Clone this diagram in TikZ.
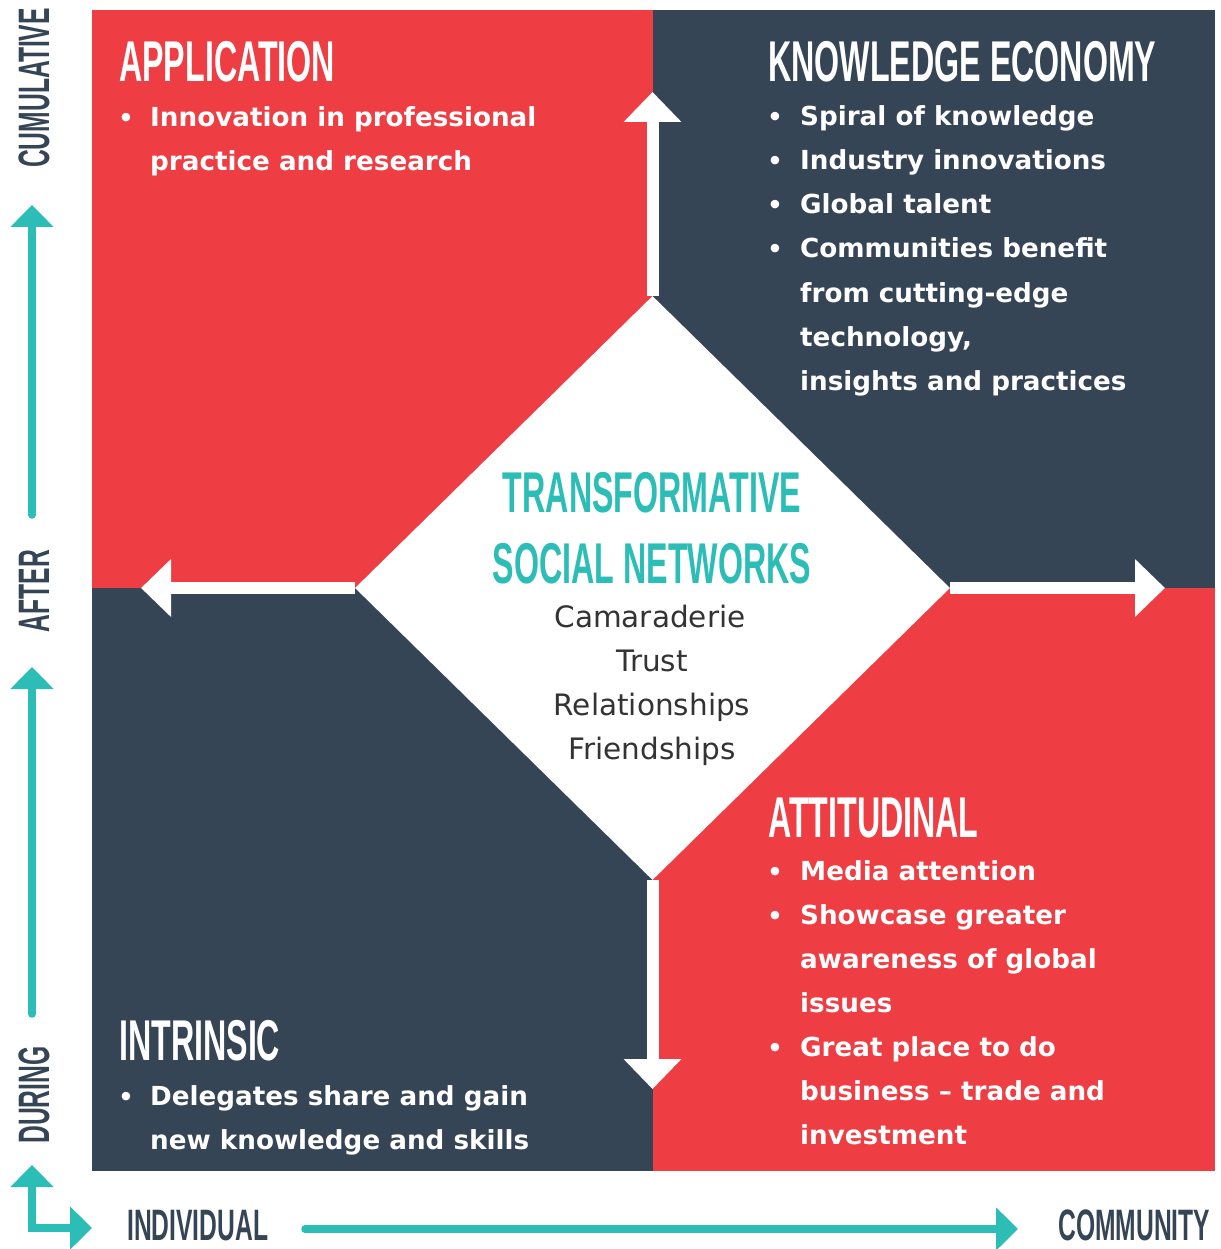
\documentclass[tikz,border=0pt]{standalone}
\usepackage{fontspec}
\usetikzlibrary{arrows.meta,shapes.geometric}
\setmainfont{DejaVu Sans}
\newfontfamily\headfont{Liberation Sans}[FakeStretch=0.56]
\definecolor{qred}{HTML}{EE3D43}
\definecolor{qdark}{HTML}{364556}
\definecolor{qteal}{HTML}{2CBDB7}
\definecolor{qtext}{HTML}{333333}
\tikzset{
  bighead/.style={inner sep=0pt, anchor=base west, text=white, font=\headfont\bfseries\fontsize{57.5}{60}\selectfont},
  axislabel/.style={inner sep=0pt, text=qdark, font=\headfont\bfseries\fontsize{44}{46}\selectfont},
  hubhead/.style={inner sep=0pt, anchor=base, text=qteal, font=\headfont\bfseries\fontsize{57.5}{60}\selectfont},
  hubtext/.style={inner sep=0pt, anchor=base, text=qtext, font=\fontsize{29.5}{32}\selectfont},
  btext/.style={inner sep=0pt, anchor=base west, text=white, font=\bfseries\fontsize{26.2}{32}\selectfont},
  bdot/.style={inner sep=0pt, anchor=base, text=white, font=\bfseries\fontsize{24}{32}\selectfont},
  whitearrow/.style={draw=white, line width=12pt, -{Triangle[length=30pt,width=56pt]}},
  tealarrow/.style={draw=qteal, line width=7.5pt, -{Triangle[length=22pt,width=42pt]}}
}
\begin{document}
\begin{tikzpicture}[x=1pt,y=-1pt]
\useasboundingbox (0,0) rectangle (1220,1249);
\fill[white] (0,0) rectangle (1220,1249);
% quadrants
\fill[qred]  (92,10) rectangle (653,588);
\fill[qdark] (653,10) rectangle (1215,588);
\fill[qdark] (92,588) rectangle (653,1171);
\fill[qred]  (653,588) rectangle (1215,1171);
% hub
\node[diamond, fill=white, minimum width=595pt, minimum height=584pt, inner sep=0pt] (hub) at (652.5,588) {};
\coordinate (upT) at (652.5,92);
\coordinate (leftT) at (141,588);
\coordinate (rightT) at (1165,588);
\coordinate (downT) at (652.5,1089);
\draw[whitearrow] (hub.north) -- (upT);
\draw[whitearrow] (hub.west) -- (leftT);
\draw[whitearrow] (hub.east) -- (rightT);
\draw[whitearrow] (hub.south) -- (downT);
% hub text
\node[hubhead] (h1) at (652,512) {TRANSFORMATIVE};
\node[hubhead] (h2) at (652,583) {SOCIAL NETWORKS};
\node[hubtext] (c1) at (650,627) {Camaraderie};
\node[hubtext] (c2) at (652,671) {Trust};
\node[hubtext] (c3) at (652,715) {Relationships};
\node[hubtext] (c4) at (652,759) {Friendships};
% top-left
\node[bighead] (tlh) at (119,82) {APPLICATION};
\node[bdot] (tlb1) at (126,127) {•};
\node[btext] (tl1) at (150,127) {Innovation in professional};
\node[btext] (tl2) at (150,171) {practice and research};
% top-right
\node[bighead] (trh) at (768,82) {KNOWLEDGE ECONOMY};
\node[bdot] (trb1) at (775,126) {•};
\node[bdot] (trb2) at (775,170) {•};
\node[bdot] (trb3) at (775,214) {•};
\node[bdot] (trb4) at (775,258) {•};
\node[btext] (tr1) at (800,126) {Spiral of knowledge};
\node[btext] (tr2) at (800,170) {Industry innovations};
\node[btext] (tr3) at (800,214) {Global talent};
\node[btext] (tr4) at (800,258) {Communities benefit};
\node[btext] (tr5) at (800,302) {from cutting-edge};
\node[btext] (tr6) at (800,346) {technology,};
\node[btext] (tr7) at (800,390) {insights and practices};
% bottom-right
\node[bighead] (brh) at (768,837) {ATTITUDINAL};
\node[bdot] (brb1) at (775,880) {•};
\node[bdot] (brb2) at (775,924) {•};
\node[bdot] (brb3) at (775,1056) {•};
\node[btext] (br1) at (800,880) {Media attention};
\node[btext] (br2) at (800,924) {Showcase greater};
\node[btext] (br3) at (800,968) {awareness of global};
\node[btext] (br4) at (800,1012) {issues};
\node[btext] (br5) at (800,1056) {Great place to do};
\node[btext] (br6) at (800,1100) {business – trade and};
\node[btext] (br7) at (800,1144) {investment};
% bottom-left
\node[bighead] (blh) at (119,1060) {INTRINSIC};
\node[bdot] (blb1) at (126,1105) {•};
\node[btext] (bl1) at (150,1105) {Delegates share and gain};
\node[btext] (bl2) at (150,1149) {new knowledge and skills};
% axes
\node[axislabel, rotate=90] (cum) at (34,88) {CUMULATIVE};
\node[axislabel, rotate=90] (aft) at (34,591) {AFTER};
\node[axislabel, rotate=90] (dur) at (34,1095) {DURING};
\node[axislabel, anchor=base west] (ind) at (127,1240) {INDIVIDUAL};
\node[axislabel, anchor=base west] (com) at (1058,1240) {COMMUNITY};
\coordinate (a1s) at (32,515); \coordinate (a1t) at (32,205);
\coordinate (a2s) at (32,1014); \coordinate (a2t) at (32,667);
\coordinate (cUp) at (32,1165); \coordinate (cCorner) at (32,1228); \coordinate (cRight) at (92,1228);
\coordinate (hs) at (305,1229); \coordinate (ht) at (1018,1229);
\draw[tealarrow, line cap=round] (a1s) -- (a1t);
\draw[tealarrow, line cap=round] (a2s) -- (a2t);
\draw[tealarrow, {Triangle[length=22pt,width=42pt]}-{Triangle[length=22pt,width=42pt]}, line join=miter] (cUp) -- (cCorner) -- (cRight);
\draw[tealarrow, line cap=round] (hs) -- (ht);
\end{tikzpicture}
\end{document}
